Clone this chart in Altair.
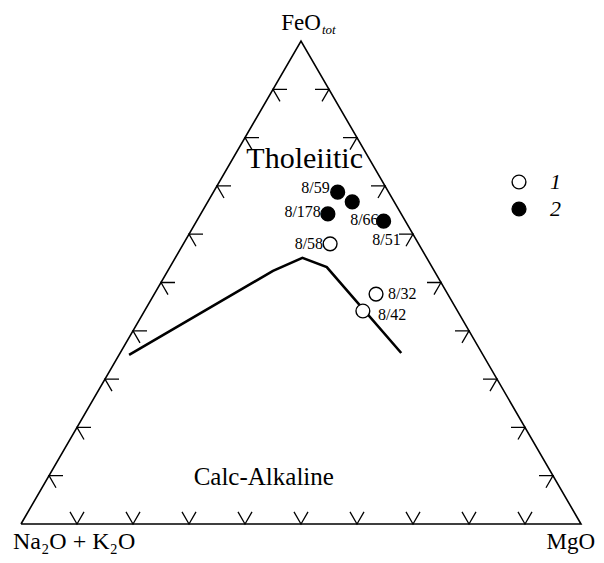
import altair as alt
import pandas as pd

# ---- data (wt.% recalculated: Na2O+K2O, FeOtot, MgO) ----
sample_ids = ["8/59", "8/51", "8/178", "8/66", "8/58", "8/32", "8/42"]
sample_group = ["2", "2", "2", "2", "1", "1", "1"]
alk = [9.1, 7.5, 13.1, 3.9, 15.8, 12.8, 16.9]
feo = [68.7, 66.7, 64.2, 62.7, 58.0, 47.6, 44.1]
mgo = [22.2, 25.8, 22.7, 33.4, 26.2, 39.6, 39.0]

# Tholeiitic / calc-alkaline boundary
bnd_alk = [63.2, 28.8, 22.2, 18.8, 14.4]
bnd_feo = [35.0, 52.4, 55.1, 53.2, 35.4]
bnd_mgo = [1.8, 18.8, 22.7, 28.0, 50.2]

# field names (position given as composition)
field_names = ["Tholeiitic", "Calc-Alkaline"]
field_alk = [12.5, 52.8]
field_feo = [73.7, 7.7]
field_mgo = [13.8, 39.5]

tick_steps = [10, 20, 30, 40, 50, 60, 70, 80, 90]

FONT = "Liberation Serif"


def to_xy(df, f="F", m="M"):
    df = df.copy()
    df["X"] = df[m] / 100 + df[f] / 200
    df["Y"] = df[f] / 100
    return df


W, H = 588, 547
xs = alt.Scale(domain=[-13 / 560, (W - 13) / 560], nice=False, zero=False)
ys = alt.Scale(domain=[(516 - H) / 483, 516 / 483], nice=False, zero=False)
X = alt.X("X:Q", scale=xs, axis=None)
Y = alt.Y("Y:Q", scale=ys, axis=None)

# triangle frame
frame = to_xy(pd.DataFrame({"A": [100, 0, 0, 100], "F": [0, 0, 100, 0],
                            "M": [0, 100, 0, 0], "o": [0, 1, 2, 3]}))
frame_layer = alt.Chart(frame).mark_line(color="black", strokeWidth=1.6).encode(
    x=X, y=Y, order="o:Q")

# edge ticks (arrow-like marks at every 10 %)
d = 0.025
rows = []
k = 0
for t in tick_steps:
    # bottom edge
    x0, y0 = t / 100, 0.0
    for i, (x, y) in enumerate([(x0 - 0.5 * d, y0 + d), (x0, y0), (x0 + 0.5 * d, y0 + d)]):
        rows.append({"id": k, "o": i, "X": x, "Y": y})
    k += 1
    # left edge
    x0, y0 = t / 200, t / 100
    for i, (x, y) in enumerate([(x0 + d, y0), (x0, y0), (x0 + 0.5 * d, y0 - d)]):
        rows.append({"id": k, "o": i, "X": x, "Y": y})
    k += 1
    # right edge
    x0, y0 = 1 - t / 200, t / 100
    for i, (x, y) in enumerate([(x0 - d, y0), (x0, y0), (x0 - 0.5 * d, y0 - d)]):
        rows.append({"id": k, "o": i, "X": x, "Y": y})
    k += 1
ticks = pd.DataFrame(rows)
tick_layer = alt.Chart(ticks).mark_line(color="black", strokeWidth=1.3).encode(
    x=X, y=Y, detail="id:N", order="o:Q")

# boundary line
bnd = to_xy(pd.DataFrame({"A": bnd_alk, "F": bnd_feo, "M": bnd_mgo,
                          "o": list(range(len(bnd_alk)))}))
bnd_layer = alt.Chart(bnd).mark_line(color="black", strokeWidth=2.6).encode(
    x=X, y=Y, order="o:Q")

# samples
pts = to_xy(pd.DataFrame({"id": sample_ids, "type": sample_group,
                          "A": alk, "F": feo, "M": mgo}))
pt_layer = alt.Chart(pts).mark_point(
    shape="circle", filled=True, size=190, stroke="black", strokeWidth=1.4,
    opacity=1).encode(
    x=X, y=Y,
    fill=alt.Fill("type:N",
                  scale=alt.Scale(domain=["1", "2"], range=["white", "black"]),
                  legend=alt.Legend(
                      title=None, orient="none", legendX=500, legendY=163,
                      symbolType="circle", symbolSize=190,
                      symbolStrokeColor="black", symbolStrokeWidth=1.4,
                      labelFont=FONT, labelFontSize=22, labelFontStyle="italic",
                      labelColor="black", labelOffset=20, rowPadding=5,
                      padding=0)))

# sample labels
label_style = {
    "8/59": dict(align="right", dx=-8, dy=-4),
    "8/51": dict(align="left", dx=20, dy=38),
    "8/178": dict(align="right", dx=-7, dy=-2),
    "8/66": dict(align="right", dx=-5, dy=-1),
    "8/58": dict(align="right", dx=-7, dy=0),
    "8/32": dict(align="left", dx=12, dy=0),
    "8/42": dict(align="left", dx=15, dy=4),
}
label_layers = []
for sid in sample_ids:
    st = label_style[sid]
    label_layers.append(
        alt.Chart(pts).transform_filter(alt.datum.id == sid).mark_text(
            font=FONT, fontSize=16, color="black", baseline="middle", **st
        ).encode(x=X, y=Y, text="id:N"))

# field names
fields = to_xy(pd.DataFrame({"name": field_names, "A": field_alk,
                             "F": field_feo, "M": field_mgo}))
thol_layer = alt.Chart(fields).transform_filter(alt.datum.name == "Tholeiitic").mark_text(
    font=FONT, fontSize=30, color="black", baseline="alphabetic", align="center"
).encode(x=X, y=Y, text="name:N")
calc_layer = alt.Chart(fields).transform_filter(alt.datum.name == "Calc-Alkaline").mark_text(
    font=FONT, fontSize=25, color="black", baseline="alphabetic", align="center", dy=-2
).encode(x=X, y=Y, text="name:N")

# apex labels
apex = to_xy(pd.DataFrame({"name": ["Na₂O + K₂O", "FeO", "MgO"],
                           "A": [100, 0, 0], "F": [0, 100, 0], "M": [0, 0, 100]}))


def apex_text(name, text=None, **kw):
    enc = dict(x=X, y=Y)
    base = alt.Chart(apex).transform_filter(alt.datum.name == name)
    if text is None:
        return base.mark_text(font=FONT, color="black", baseline="alphabetic", **kw).encode(
            text="name:N", **enc)
    return base.mark_text(font=FONT, color="black", baseline="alphabetic", text=text, **kw).encode(**enc)


alk_lab = apex_text("Na₂O + K₂O", align="left", dx=-8, dy=25, fontSize=24)
feo_lab = apex_text("FeO", align="center", dx=0, dy=-11, fontSize=23)
tot_lab = apex_text("FeO", text="tot", align="left", dx=21, dy=-7, fontSize=13,
                    fontStyle="italic")
mgo_lab = apex_text("MgO", align="right", dx=14, dy=25, fontSize=23)

chart = alt.layer(
    frame_layer, tick_layer, bnd_layer, pt_layer, *label_layers,
    thol_layer, calc_layer, alk_lab, feo_lab, tot_lab, mgo_lab
).properties(
    width=W, height=H, padding=0,
    autosize=alt.AutoSizeParams(type="none"),
    background="white",
).configure_view(stroke=None)

chart.save("out.html", embed_options={"renderer": "svg", "actions": False})
